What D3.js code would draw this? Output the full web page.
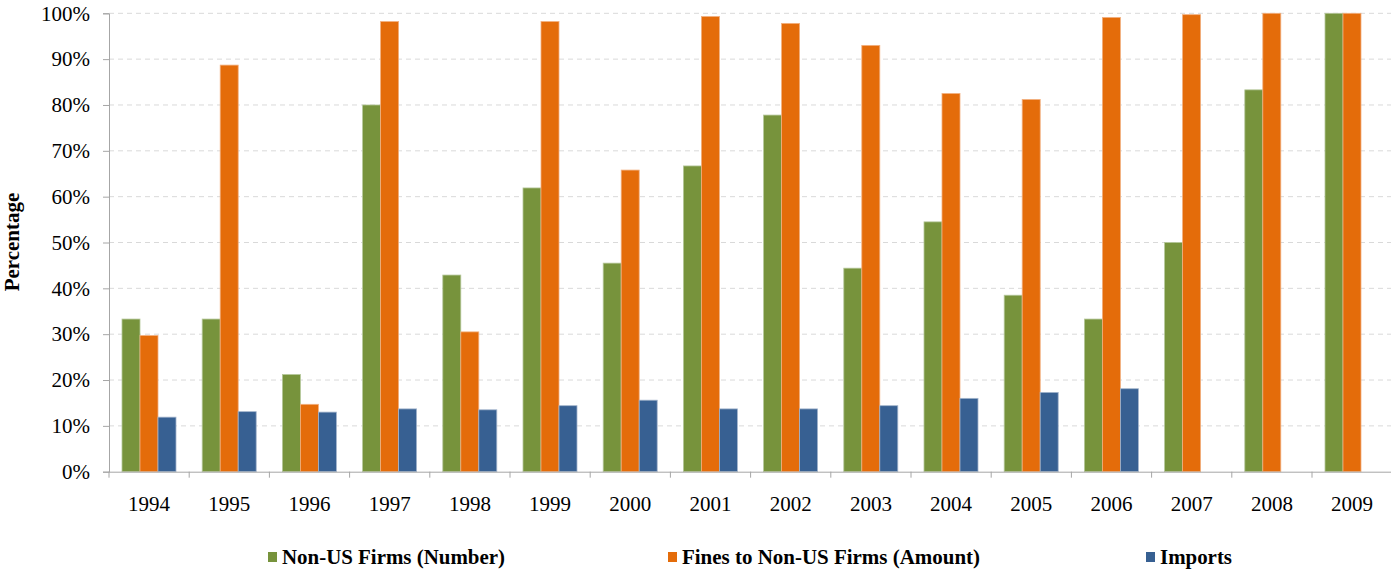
<!DOCTYPE html>
<html>
<head>
<meta charset="utf-8">
<script src="https://cdn.jsdelivr.net/npm/d3@7"></script>
<style>
  html, body { margin: 0; padding: 0; background: #fff; }
  svg { display: block; }
</style>
</head>
<body>
<svg id="chart" width="1391" height="571"></svg>
<script>
const years = ["1994","1995","1996","1997","1998","1999","2000","2001","2002","2003","2004","2005","2006","2007","2008","2009"];
const nonUSFirmsNumber = [33.3, 33.3, 21.2, 80.0, 42.9, 61.9, 45.5, 66.7, 77.8, 44.4, 54.5, 38.5, 33.3, 50.0, 83.3, 100];
const finesNonUSAmount = [29.7, 88.7, 14.7, 98.2, 30.5, 98.2, 65.8, 99.3, 97.8, 93.0, 82.5, 81.2, 99.1, 99.7, 100, 100];
const imports          = [11.9, 13.1, 13.0, 13.7, 13.5, 14.4, 15.6, 13.7, 13.7, 14.4, 16.0, 17.3, 18.1, null, null, null];
const seriesNames = ["Non-US Firms (Number)", "Fines to Non-US Firms (Amount)", "Imports"];
const seriesColors = ["#77933C", "#E46C0A", "#376092"];
const strokeColors = ["#b5c79a", "#f2b07f", "#a3b5cc"];
const yTicks = [0, 10, 20, 30, 40, 50, 60, 70, 80, 90, 100];

const FONT = "'Liberation Serif'";
const svg = d3.select("#chart");
const m = {left: 109, right: 1391, top: 13.3, bottom: 471.7};

const x = d3.scaleBand().domain(years).range([m.left, m.left + 80.2 * years.length]).padding(0);
const xs = d3.scaleBand().domain([0, 1, 2]).range([13, 67]).padding(0);
const y = d3.scaleLinear().domain([0, 100]).range([m.bottom, m.top]);

// gridlines
svg.append("g").selectAll("line").data(yTicks.filter(d => d > 0)).join("line")
  .attr("x1", m.left).attr("x2", m.right)
  .attr("y1", d => y(d)).attr("y2", d => y(d))
  .attr("stroke", "#d9d9d9").attr("stroke-width", 1).attr("stroke-dasharray", "5,4");

// bars
const data = [nonUSFirmsNumber, finesNonUSAmount, imports];
const groups = svg.append("g").selectAll("g").data(years).join("g")
  .attr("transform", d => `translate(${x(d)},0)`);
groups.selectAll("rect")
  .data((yr, i) => data.map((s, k) => ({k, v: s[i]})).filter(d => d.v != null))
  .join("rect")
  .attr("x", d => xs(d.k))
  .attr("width", xs.bandwidth())
  .attr("y", d => y(d.v))
  .attr("height", d => y(0) - y(d.v))
  .attr("fill", d => seriesColors[d.k])
  .attr("stroke", d => strokeColors[d.k])
  .attr("stroke-width", 0.8);

// y axis
const yAxis = svg.append("g").attr("transform", `translate(${m.left},0)`)
  .call(d3.axisLeft(y).tickValues(yTicks).tickFormat(d => d + "%").tickSize(6).tickPadding(13));
yAxis.select(".domain").attr("stroke", "#a6a6a6");
yAxis.selectAll(".tick line").attr("stroke", "#a6a6a6");
yAxis.selectAll(".tick text").attr("fill", "#000")
  .style("font-family", FONT).style("font-size", "21px");

// x axis
const xAxis = svg.append("g").attr("transform", `translate(0,${m.bottom})`)
  .call(d3.axisBottom(x).tickSize(0).tickPadding(24));
xAxis.select(".domain").attr("stroke", "#a6a6a6").attr("d", `M${m.left},0.5H${m.right}`);
xAxis.selectAll(".tick text").attr("fill", "#000")
  .style("font-family", FONT).style("font-size", "21px");
const bounds = years.map(d => x(d)).concat([x(years[years.length - 1]) + x.bandwidth()]);
xAxis.append("g").selectAll("line").data(bounds).join("line")
  .attr("x1", d => d).attr("x2", d => d).attr("y1", 0).attr("y2", 6)
  .attr("stroke", "#a6a6a6");

// y label
svg.append("text")
  .attr("transform", "translate(19,242) rotate(-90)")
  .attr("text-anchor", "middle")
  .style("font-family", FONT).style("font-size", "21px").style("font-weight", "bold")
  .text("Percentage");

// legend
const legendX = [268, 668, 1146];
const legendW = [223, 298, 72];
const lg = svg.append("g").selectAll("g").data(seriesNames).join("g")
  .attr("transform", (d, i) => `translate(${legendX[i]},557)`);
lg.append("rect").attr("x", 0).attr("y", -5).attr("width", 9).attr("height", 10)
  .attr("fill", (d, i) => seriesColors[i]);
lg.append("text").attr("x", 14).attr("y", 7)
  .style("font-family", FONT).style("font-size", "21px").style("font-weight", "bold")
  .attr("textLength", (d, i) => legendW[i]).attr("lengthAdjust", "spacingAndGlyphs")
  .text(d => d);
</script>
</body>
</html>
